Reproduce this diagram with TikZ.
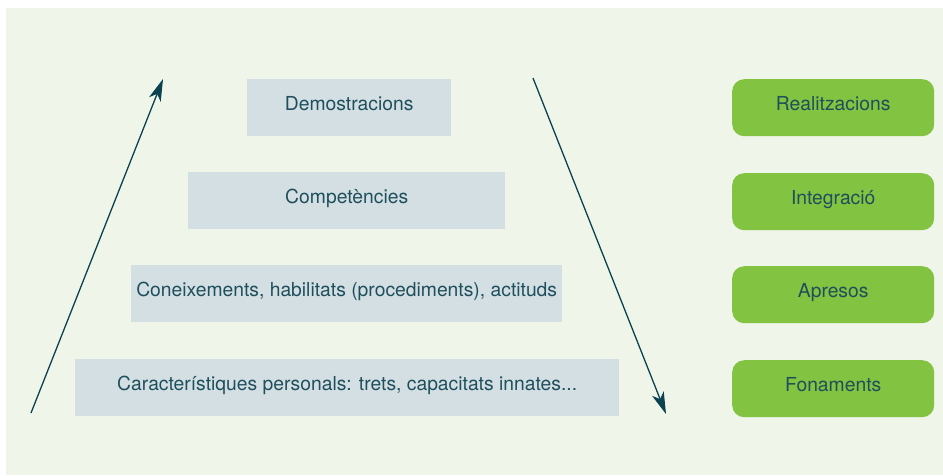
\documentclass[tikz,border=0pt]{standalone}
\usepackage{fontspec}
\setmainfont{TeX Gyre Heros}
\usetikzlibrary{arrows.meta}
\definecolor{bgc}{HTML}{F0F5EA}
\definecolor{bluebox}{HTML}{D3DFE3}
\definecolor{greenbox}{HTML}{82C341}
\definecolor{txt}{HTML}{1F4F5C}
\definecolor{arr}{HTML}{0B4252}
\tikzset{
  lvl/.style={fill=bluebox, draw=none, text=txt, font=\fontsize{19.3}{21}\selectfont, anchor=north west, inner sep=0pt, text height=14pt, text depth=8pt},
  stage/.style={fill=greenbox, draw=none, rounded corners=12pt, text=txt, font=\fontsize{19.3}{21}\selectfont, anchor=north west, inner sep=0pt, text height=14pt, text depth=8pt, minimum width=202pt, minimum height=57pt},
  flow/.style={draw=arr, line width=1.3pt, -{Stealth[length=22pt,width=12.5pt,inset=6pt]}}
}
\begin{document}
\begin{tikzpicture}[x=1pt,y=-1pt]
\useasboundingbox (0,0) rectangle (943,475);
\fill[white] (0,0) rectangle (943,475);
\fill[bgc] (6,8) rectangle (943,475);
\node[lvl, minimum width=204pt, minimum height=57pt] (d) at (247,79) {Demostracions};
\node[lvl, minimum width=317pt, minimum height=57pt] (c) at (188,172) {Competències};
\node[lvl, minimum width=431pt, minimum height=57pt] (k) at (131,265) {Coneixements, habilitats (procediments), actituds};
\node[lvl, minimum width=544pt, minimum height=57pt] (p) at (75,359) {Característiques personals: trets, capacitats innates...};
\node[stage] (r) at (732,79) {Realitzacions};
\node[stage] (i) at (732,173) {Integració};
\node[stage] (a) at (732,266) {Apresos};
\node[stage] (f) at (732,360) {Fonaments};
\coordinate (l1) at (31,413);
\coordinate (l2) at (163,79);
\coordinate (r1) at (533,78);
\coordinate (r2) at (666,414);
\draw[flow] (l1) -- (l2);
\draw[flow] (r1) -- (r2);
\end{tikzpicture}
\end{document}
